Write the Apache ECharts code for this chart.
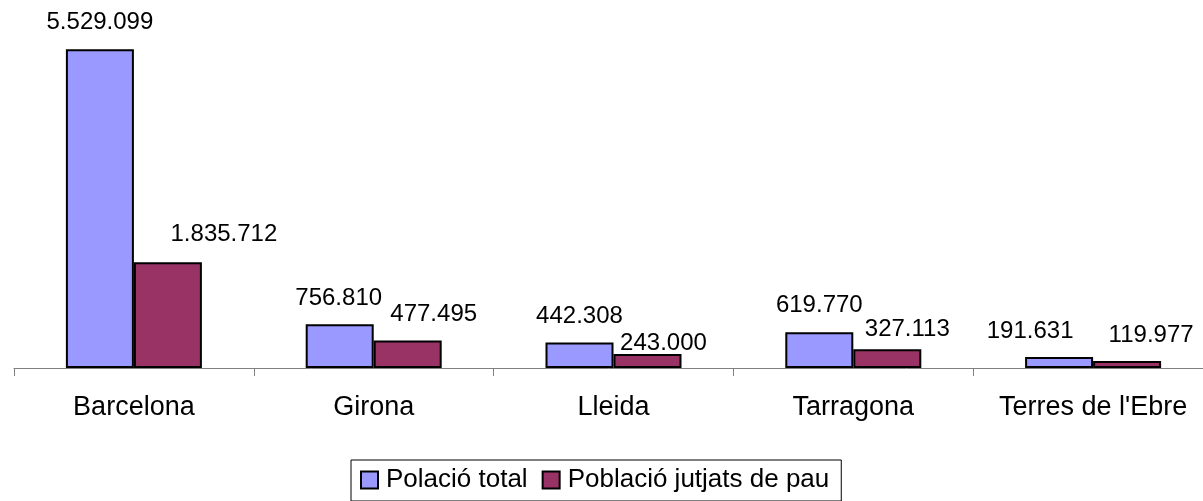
<!DOCTYPE html>
<html><head><meta charset="utf-8">
<script src="https://cdn.jsdelivr.net/npm/echarts@6/dist/echarts.min.js"></script>
<style>html,body{margin:0;padding:0;background:#fff}#c{width:1203px;height:501px}</style>
</head><body><div id="c"></div>
<script>
const categories = ['Barcelona', 'Girona', 'Lleida', 'Tarragona', "Terres de l'Ebre"];
const seriesNames = ['Polació total', 'Població jutjats de pau'];
const totalPopulation = [5529099, 756810, 442308, 619770, 191631];
const judgesPopulation = [1835712, 477495, 243000, 327113, 119977];
const valueAxisMax = 6000000;

// label nudges (layout only)
const labelNudge = [
  [[0, -1], [-1, 0], [0, 0], [0, -1], [-29, 0]],
  [[56, -2], [26, 0], [16, 15], [20, 6], [24, 0]]
];
const colors = ['#9999FF', '#993366'];
const FONT = '"Liberation Sans", Arial, sans-serif';
const fmt = v => String(v).replace(/\B(?=(\d{3})+(?!\d))/g, '.');

function makeSeries(name, values, idx) {
  return {
    name: name,
    type: 'bar',
    barWidth: 68,
    barGap: '0%',
    itemStyle: { color: colors[idx], borderColor: '#000', borderWidth: 2 },
    label: {
      show: true, position: 'top', distance: 14,
      color: '#000', fontSize: 24, fontFamily: FONT,
      formatter: p => fmt(p.value)
    },
    emphasis: { disabled: true },
    data: values.map((v, i) => ({ value: v, label: { offset: labelNudge[idx][i] } }))
  };
}

const chart = echarts.init(document.getElementById('c'), null, { renderer: 'canvas' });
chart.setOption({
  animation: false,
  backgroundColor: '#fff',
  grid: { left: 14, width: 1199, top: 22, height: 346, containLabel: false, outerBoundsMode: 'none' },
  legend: {
    data: seriesNames,
    left: 351, top: 460,
    padding: [7, 12, 8, 9],
    itemGap: 14,
    itemWidth: 17, itemHeight: 17,
    icon: 'rect',
    borderColor: '#000', borderWidth: 1,
    itemStyle: { borderColor: '#000', borderWidth: 2 },
    textStyle: { fontSize: 26, fontFamily: FONT, color: '#000', padding: [0, 0, 0, 3] }
  },
  xAxis: {
    type: 'category',
    data: categories,
    boundaryGap: true,
    axisLine: { lineStyle: { color: '#808080', width: 1 } },
    axisTick: { show: true, length: 8, lineStyle: { color: '#808080' }, alignWithLabel: false },
    axisLabel: { color: '#000', fontSize: 27, fontFamily: FONT, margin: 26, interval: 0 }
  },
  yAxis: {
    type: 'value', min: 0, max: valueAxisMax, show: false,
    splitLine: { show: false }
  },
  series: [
    makeSeries(seriesNames[0], totalPopulation, 0),
    makeSeries(seriesNames[1], judgesPopulation, 1)
  ]
});
</script>
</body></html>
